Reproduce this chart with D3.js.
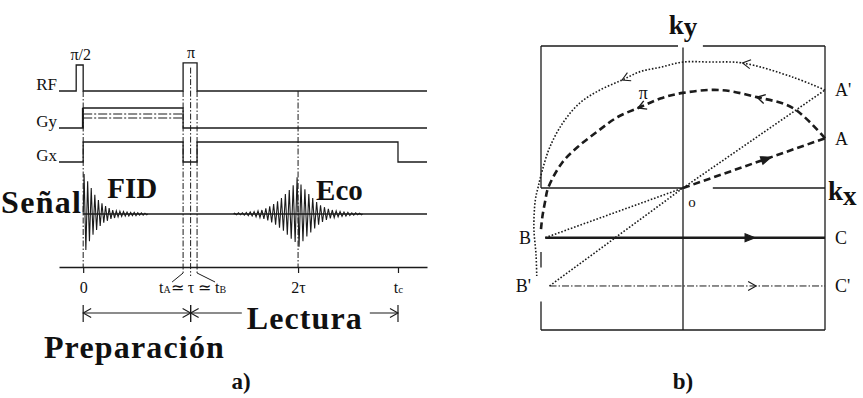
<!DOCTYPE html>
<html>
<head>
<meta charset="utf-8">
<script src="https://cdn.jsdelivr.net/npm/d3@7"></script>
<style>
  body { margin: 0; background: #fff; }
  svg { display: block; }
  text { font-family: 'Liberation Serif', 'Times New Roman', serif; fill: #111; }
</style>
</head>
<body>
<div class="container"></div>
<script>
/* globals d3 */
// ---- a) pulse sequence, time measured in units of tau ----
const timeDomain = [-0.225, 3.2];
const channels = ['RF', 'Gy', 'Gx', 'Señal', 'tiempo'];
const channelLabels = ['RF', 'Gy', 'Gx'];
const rfPulses = [
  { label: 'π/2', t0: -0.065, t1: 0, amp: 1 },
  { label: 'π', t0: 0.93, t1: 1.06, amp: 1.08 }
];
const gyOn = [0, 0.93];
const gyLevels = [1, 0.7, 0.5];
const gxOn = [[0, 0.93], [1.06, 2.93]];
const fidSpan = [0, 0.6];
const fidPeaks = [1, -0.9, 0.82, -0.68, 0.65, -0.52, 0.48, -0.4, 0.35, -0.3, 0.27, -0.22,
  0.2, -0.17, 0.15, -0.12, 0.1, -0.1, 0.08, -0.07, 0.07, -0.06, 0.06, -0.05, 0.05, -0.05,
  0.04, -0.04, 0.04, -0.04, 0.03, -0.03, 0.03, -0.03, 0.02, -0.02];
const echoSpan = [1.4, 2.6];
const echoPeaks = [0.02, -0.02, 0.03, -0.02, 0.03, -0.03, 0.04, -0.04, 0.05, -0.05, 0.06, -0.07,
  0.08, -0.09, 0.1, -0.12, 0.14, -0.16, 0.19, -0.21, 0.25, -0.27, 0.32, -0.34, 0.4, -0.42,
  0.5, -0.52, 0.6, -0.62, 0.72, -0.7, 0.92, -0.82, 0.74, -0.68, 0.62, -0.56, 0.5, -0.46,
  0.4, -0.36, 0.3, -0.27, 0.22, -0.2, 0.17, -0.15, 0.13, -0.11, 0.1, -0.09, 0.08, -0.07,
  0.06, -0.06, 0.05, -0.05, 0.04, -0.04, 0.03, -0.03, 0.03, -0.02, 0.02, -0.02];
const markerTimes = [0, 2];
const piEdges = [0.93, 1.06];
const tauTime = 1;
const tickValues = [0, 2, 2.93];
const tickLabels = [['0', ''], ['2τ', ''], ['t', 'c']];
const phases = [
  { name: 'Preparación', t0: 0, t1: 1 },
  { name: 'Lectura', t0: 1, t1: 2.93 }
];

// ---- b) k-space trajectory, coordinates normalised to the field of view ----
const kPoints = [
  { name: 'o', kx: 0, ky: 0 },
  { name: 'A', kx: 1, ky: 0.35 },
  { name: "A'", kx: 1, ky: 0.69 },
  { name: 'B', kx: -0.97, ky: -0.35 },
  { name: "B'", kx: -0.94, ky: -0.69 },
  { name: 'C', kx: 1, ky: -0.35 },
  { name: "C'", kx: 1, ky: -0.69 }
];
const kSegments = [
  { from: 'o', to: 'A', style: 'thickDash', head: 0.62, filled: true },
  { from: 'o', to: "A'", style: 'dotted' },
  { from: 'B', to: 'o', style: 'dotted' },
  { from: "B'", to: 'o', style: 'dotted' },
  { from: 'B', to: 'C', style: 'solidThick', head: 0.75, filled: true },
  { from: "B'", to: "C'", style: 'dashDot', head: 0.75, filled: false }
];
// pi pulse arc from A to B (inner) and from A' to B' (outer)
const innerArc = [[1, 0.35], [0.775, 0.563], [0.52, 0.64], [0.26, 0.69], [0, 0.67],
  [-0.16, 0.63], [-0.3, 0.57], [-0.46, 0.5], [-0.6, 0.4], [-0.74, 0.29], [-0.85, 0.18],
  [-0.95, 0], [-0.97, -0.09], [-0.99, -0.2], [-1, -0.29]];
const innerArcHeads = [[0.52, 0.64], [-0.32, 0.57]];
const outerArc = [[1, 0.69], [0.775, 0.78], [0.42, 0.88], [0.19, 0.887], [0, 0.887],
  [-0.16, 0.85], [-0.3, 0.82], [-0.43, 0.76], [-0.585, 0.69], [-0.725, 0.6], [-0.845, 0.46],
  [-0.937, 0.29], [-0.99, 0.127], [-1.02, 0.007], [-1.04, -0.085], [-1.05, -0.28],
  [-1.035, -0.47], [-1.03, -0.62]];
const outerArcHeads = [[0.42, 0.88], [-0.43, 0.76]];
// frame pieces, interrupted where labels or curves cross
const frameTop = [[-1, -0.035], [0.14, 1]];
const frameLeft = [[1, 0], [-0.45, -0.56], [-0.8, -1]];
const kxAxisPieces = [[-1, 0], [0.21, 1]];

const ink = '#1b1b1b';
const lineStyles = {
  thickDash: { width: 2.6, dash: '7,4' },
  dotted: { width: 1.6, dash: '1.6,1.8' },
  solidThick: { width: 2.6, dash: null },
  dashDot: { width: 1, dash: '7,2,1.5,2' }
};

const svg = d3.select('.container')
  .append('svg')
  .attr('width', 863)
  .attr('height', 398);

svg.append('rect').attr('width', 863).attr('height', 398).attr('fill', '#fff');

// draws an arrow head with its tip at (x, y) pointing along angle
function arrowHead(g, x, y, angle, filled, width) {
  const len = filled ? 10 : 8;
  const half = filled ? 4 : 4.5;
  const c = Math.cos(angle);
  const s = Math.sin(angle);
  const p1 = [x - len * c + half * s, y - len * s - half * c];
  const p2 = [x - len * c - half * s, y - len * s + half * c];
  g.append('path')
    .attr('d', `M${p1}L${x},${y}L${p2}` + (filled ? 'Z' : ''))
    .attr('fill', filled ? ink : 'none')
    .attr('stroke', ink)
    .attr('stroke-width', width || 1.2)
    .attr('stroke-linejoin', 'miter');
}

// ================= a) =================
const x = d3.scaleLinear().domain(timeDomain).range([59, 427]);
const baseY = d3.scaleOrdinal().domain(channels).range([91, 128, 162, 214, 267]);
const rfAmp = d3.scaleLinear().domain([0, 1]).range([0, 26]);
const gAmp = d3.scaleLinear().domain([0, 1]).range([0, 20]);
const sigY = d3.scaleLinear().domain([-1, 1]).range([baseY('Señal') + 40, baseY('Señal') - 40]);

const gA = svg.append('g').attr('class', 'panel-a');

// dash-dot time markers
gA.selectAll('line.marker')
  .data(markerTimes)
  .enter()
  .append('line')
  .attr('x1', d => x(d)).attr('x2', d => x(d))
  .attr('y1', baseY('RF')).attr('y2', baseY('tiempo'))
  .attr('stroke', ink).attr('stroke-width', 1)
  .attr('stroke-dasharray', '6,2,1.5,2');

gA.selectAll('line.edge')
  .data(piEdges)
  .enter()
  .append('line')
  .attr('x1', d => x(d)).attr('x2', d => x(d))
  .attr('y1', baseY('RF')).attr('y2', baseY('tiempo') + 6)
  .attr('stroke', ink).attr('stroke-width', 1)
  .attr('stroke-dasharray', '6,2,1.5,2');

gA.append('line')
  .attr('x1', x(tauTime)).attr('x2', x(tauTime))
  .attr('y1', baseY('RF') - rfAmp(0.9)).attr('y2', baseY('tiempo') + 9)
  .attr('stroke', ink).attr('stroke-width', 1)
  .attr('stroke-dasharray', '6,2,1.5,2');

// RF line with its pulses
let rfPath = `M${x(timeDomain[0])},${baseY('RF')}`;
rfPulses.forEach((p) => {
  const top = baseY('RF') - rfAmp(p.amp);
  rfPath += `H${x(p.t0)}V${top}H${x(p.t1)}V${baseY('RF')}`;
});
rfPath += `H${x(timeDomain[1])}`;
gA.append('path').attr('d', rfPath).attr('fill', 'none').attr('stroke', ink).attr('stroke-width', 1.3);

gA.selectAll('text.pulse')
  .data(rfPulses)
  .enter()
  .append('text')
  .attr('x', d => x((d.t0 + d.t1) / 2) + 1)
  .attr('y', d => baseY('RF') - rfAmp(d.amp) - 5)
  .attr('text-anchor', 'middle')
  .attr('font-size', 16)
  .text(d => d.label);

// Gy phase encoding lobes
const gyTop = baseY('Gy') - gAmp(gyLevels[0]);
gA.append('path')
  .attr('d', `M${x(timeDomain[0])},${baseY('Gy')}H${x(gyOn[0])}V${gyTop}H${x(gyOn[1])}V${baseY('Gy')}H${x(timeDomain[1])}`)
  .attr('fill', 'none').attr('stroke', ink).attr('stroke-width', 1.3);

gA.selectAll('line.gy')
  .data(gyLevels.slice(1))
  .enter()
  .append('line')
  .attr('x1', x(gyOn[0])).attr('x2', x(gyOn[1]) + 1)
  .attr('y1', d => baseY('Gy') - gAmp(d)).attr('y2', d => baseY('Gy') - gAmp(d))
  .attr('stroke', ink).attr('stroke-width', 1.1)
  .attr('stroke-dasharray', '9,2,2,2');

gA.append('line')
  .attr('x1', x(0) - 0.5).attr('x2', x(0) - 0.5)
  .attr('y1', baseY('Gy')).attr('y2', gyTop)
  .attr('stroke', ink).attr('stroke-width', 1.6);

// Gx read gradient
let gxPath = `M${x(timeDomain[0])},${baseY('Gx')}`;
gxOn.forEach(([t0, t1]) => {
  gxPath += `H${x(t0)}V${baseY('Gx') - gAmp(1)}H${x(t1)}V${baseY('Gx')}`;
});
gxPath += `H${x(timeDomain[1])}`;
gA.append('path').attr('d', gxPath).attr('fill', 'none').attr('stroke', ink).attr('stroke-width', 1.3);

gA.selectAll('text.channel')
  .data(channelLabels)
  .enter()
  .append('text')
  .attr('x', 57)
  .attr('y', d => baseY(d) - 1)
  .attr('text-anchor', 'end')
  .attr('font-size', 17)
  .text(d => d);

// signal: baseline, FID and echo
gA.append('line')
  .attr('x1', x(0)).attr('x2', x(timeDomain[1]))
  .attr('y1', baseY('Señal')).attr('y2', baseY('Señal'))
  .attr('stroke', ink).attr('stroke-width', 1.3);

function drawWave(peaks, span) {
  const ix = d3.scaleLinear().domain([0, peaks.length]).range(span.map(x));
  const pts = [[ix(0), sigY(0)]].concat(peaks.map((v, i) => [ix(i + 0.5), sigY(v)]));
  pts.push([ix(peaks.length), sigY(0)]);
  gA.append('path')
    .attr('d', d3.line()(pts))
    .attr('fill', 'none')
    .attr('stroke', ink)
    .attr('stroke-width', 1.1)
    .attr('stroke-linejoin', 'miter');
}
drawWave(fidPeaks, fidSpan);
drawWave(echoPeaks, echoSpan);

gA.append('text')
  .attr('x', 1).attr('y', 213)
  .attr('font-size', 32).attr('font-weight', 'bold')
  .attr('textLength', 80).attr('lengthAdjust', 'spacing')
  .text('Señal');
gA.append('text')
  .attr('x', x(fidSpan[0]) + 24).attr('y', 198)
  .attr('font-size', 29).attr('font-weight', 'bold')
  .text('FID');
gA.append('text')
  .attr('x', x(2) + 18).attr('y', 200)
  .attr('font-size', 29).attr('font-weight', 'bold')
  .text('Eco');

// time axis
const axis = gA.append('g')
  .attr('transform', `translate(0, ${baseY('tiempo')})`)
  .call(d3.axisBottom(x).tickValues(tickValues).tickSize(6).tickSizeOuter(0).tickPadding(9).tickFormat(''));
axis.attr('font-family', null).attr('font-size', null);
axis.select('.domain').attr('stroke', ink).attr('stroke-width', 1.3);
axis.selectAll('.tick line').attr('stroke', ink).attr('stroke-width', 1.2);
axis.selectAll('.tick text')
  .attr('font-size', 16)
  .attr('fill', '#111')
  .each(function (d, i) {
    const t = d3.select(this);
    t.append('tspan').text(tickLabels[i][0]);
    if (tickLabels[i][1]) t.append('tspan').attr('font-size', 11).text(tickLabels[i][1]);
  });

// tA ~ tau ~ tB leaders
const legY = baseY('tiempo') + 6;
gA.append('path')
  .attr('d', `M${x(piEdges[0])},${legY}L${x(piEdges[0]) - 11},${legY + 9}M${x(piEdges[1])},${legY}L${x(piEdges[1]) + 18},${legY + 9}`)
  .attr('fill', 'none').attr('stroke', ink).attr('stroke-width', 1);

const tauText = gA.append('text')
  .attr('x', x(tauTime) + 2)
  .attr('y', 293)
  .attr('text-anchor', 'middle')
  .attr('font-size', 16);
tauText.append('tspan').text('t');
tauText.append('tspan').attr('font-size', 10).text('A');
tauText.append('tspan').text('≃ τ ≃ t');
tauText.append('tspan').attr('font-size', 10).text('B');

// Preparación / Lectura spans
const spanY = 313;
phases.forEach((p, i) => {
  const x0 = x(p.t0);
  const x1 = x(p.t1);
  gA.append('line')
    .attr('x1', x0).attr('x2', x1)
    .attr('y1', spanY).attr('y2', spanY)
    .attr('stroke', ink).attr('stroke-width', 1.2);
  arrowHead(gA, x0, spanY, Math.PI, false, 1.1);
  arrowHead(gA, x1, spanY, 0, false, 1.1);
  [x0, x1].forEach((xx) => {
    gA.append('line')
      .attr('x1', xx).attr('x2', xx)
      .attr('y1', spanY - 8).attr('y2', spanY + 9)
      .attr('stroke', ink).attr('stroke-width', 1.2);
  });
  if (i === 0) {
    gA.append('text')
      .attr('x', (x0 + x1) / 2 - 3).attr('y', 358)
      .attr('text-anchor', 'middle')
      .attr('font-size', 32).attr('font-weight', 'bold')
      .attr('textLength', 180).attr('lengthAdjust', 'spacing')
      .text(p.name);
  } else {
    const label = gA.append('text')
      .attr('x', (x0 + x1) / 2 + 10).attr('y', 329)
      .attr('text-anchor', 'middle')
      .attr('font-size', 32).attr('font-weight', 'bold')
      .attr('textLength', 115).attr('lengthAdjust', 'spacing')
      .text(p.name);
    const bb = label.node().getBBox();
    gA.insert('rect', function () { return label.node(); })
      .attr('x', bb.x - 5).attr('y', spanY - 4)
      .attr('width', bb.width + 13).attr('height', 8)
      .attr('fill', '#fff');
  }
});

gA.append('text')
  .attr('x', 241).attr('y', 389)
  .attr('text-anchor', 'middle')
  .attr('font-size', 23).attr('font-weight', 'bold')
  .text('a)');

// ================= b) =================
const kx = d3.scaleLinear().domain([-1, 1]).range([541, 825]);
const ky = d3.scaleLinear().domain([-1, 1]).range([330, 46]);
const gB = svg.append('g').attr('class', 'panel-b');
const pt = name => kPoints.find(p => p.name === name);

function frameLine(x1, y1, x2, y2) {
  gB.append('line')
    .attr('x1', x1).attr('y1', y1).attr('x2', x2).attr('y2', y2)
    .attr('stroke', ink).attr('stroke-width', 1.3);
}
frameTop.forEach(([a, b]) => frameLine(kx(a), ky(1), kx(b), ky(1)));
frameLeft.forEach(([a, b]) => frameLine(kx(-1), ky(a), kx(-1), ky(b)));
frameLine(kx(1), ky(1), kx(1), ky(-1));
frameLine(kx(-1), ky(-1), kx(1), ky(-1));
kxAxisPieces.forEach(([a, b]) => frameLine(kx(a), ky(0), kx(b), ky(0)));
frameLine(kx(0), ky(0.99), kx(0), ky(-1));

function styled(sel, style) {
  const st = lineStyles[style];
  return sel.attr('fill', 'none')
    .attr('stroke', ink)
    .attr('stroke-width', st.width)
    .attr('stroke-dasharray', st.dash);
}

kSegments.forEach((s) => {
  const a = pt(s.from);
  const b = pt(s.to);
  styled(gB.append('line')
    .attr('x1', kx(a.kx)).attr('y1', ky(a.ky))
    .attr('x2', kx(b.kx)).attr('y2', ky(b.ky)), s.style);
  if (s.head) {
    const hx = kx(a.kx + (b.kx - a.kx) * s.head);
    const hy = ky(a.ky + (b.ky - a.ky) * s.head);
    const ang = Math.atan2(ky(b.ky) - ky(a.ky), kx(b.kx) - kx(a.kx));
    arrowHead(gB, hx, hy, ang, s.filled, 1.1);
  }
});

const arcLine = d3.line().x(d => kx(d[0])).y(d => ky(d[1])).curve(d3.curveCatmullRom);

function arcWithHeads(points, heads, style, headWidth) {
  const path = styled(gB.append('path').attr('d', arcLine(points)), style);
  const node = path.node();
  const total = node.getTotalLength();
  heads.forEach((h) => {
    const tx = kx(h[0]);
    const ty = ky(h[1]);
    let best = 0;
    let bestD = Infinity;
    for (let l = 0; l <= total; l += 0.5) {
      const p = node.getPointAtLength(l);
      const d = (p.x - tx) ** 2 + (p.y - ty) ** 2;
      if (d < bestD) { bestD = d; best = l; }
    }
    const p0 = node.getPointAtLength(Math.max(0, best - 3));
    const p1 = node.getPointAtLength(Math.min(total, best + 3));
    const tip = node.getPointAtLength(best);
    arrowHead(gB, tip.x, tip.y, Math.atan2(p1.y - p0.y, p1.x - p0.x), false, headWidth);
  });
}
arcWithHeads(outerArc, outerArcHeads, 'dotted', 1.1);
arcWithHeads(innerArc, innerArcHeads, 'thickDash', 1.4);

gB.append('text')
  .attr('x', kx(-0.28)).attr('y', ky(0.63))
  .attr('text-anchor', 'middle')
  .attr('font-size', 18)
  .text('π');

// point labels
gB.selectAll('text.point')
  .data(kPoints.filter(p => p.name !== 'o'))
  .enter()
  .append('text')
  .attr('x', d => (d.kx > 0 ? kx(1) + 10 : kx(-1) - 10))
  .attr('y', d => ky(d.ky))
  .attr('dy', '0.35em')
  .attr('text-anchor', d => (d.kx > 0 ? 'start' : 'end'))
  .attr('font-size', 18)
  .text(d => d.name);

gB.append('text')
  .attr('x', kx(0) + 9).attr('y', ky(0) + 19)
  .attr('text-anchor', 'middle')
  .attr('font-size', 15)
  .text('o');

const kyLabel = gB.append('text')
  .attr('x', kx(0)).attr('y', 34)
  .attr('text-anchor', 'middle')
  .attr('font-size', 27).attr('font-weight', 'bold');
kyLabel.append('tspan').text('k');
kyLabel.append('tspan').attr('dy', 2).text('y');

const kxLabel = gB.append('text')
  .attr('x', kx(1) + 3).attr('y', 200)
  .attr('font-size', 27).attr('font-weight', 'bold');
kxLabel.append('tspan').text('k');
kxLabel.append('tspan').attr('dy', 5).text('x');

gB.append('text')
  .attr('x', kx(0)).attr('y', 389)
  .attr('text-anchor', 'middle')
  .attr('font-size', 23).attr('font-weight', 'bold')
  .text('b)');
</script>
</body>
</html>
